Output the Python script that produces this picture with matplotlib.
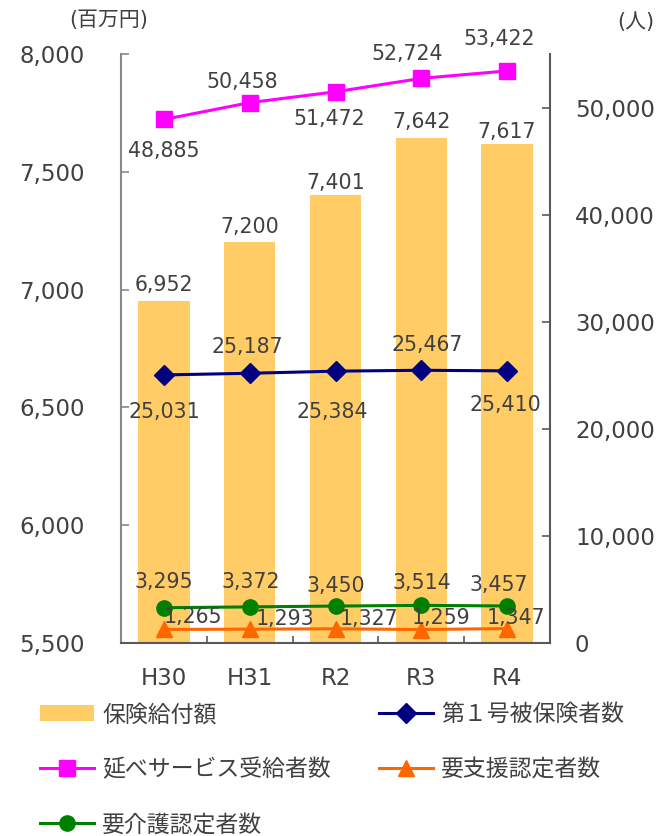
import matplotlib
matplotlib.use("Agg")
import matplotlib.pyplot as plt
from matplotlib.patches import Patch
from matplotlib.lines import Line2D

plt.rcParams['font.family'] = ['DejaVu Sans', 'Noto Sans CJK JP']

# ---- data ----
years = ["H30", "H31", "R2", "R3", "R4"]
benefit_amount = [6952, 7200, 7401, 7642, 7617]          # 保険給付額 (百万円)
service_users = [48885, 50458, 51472, 52724, 53422]      # 延べサービス受給者数
insured_first = [25031, 25187, 25384, 25467, 25410]      # 第1号被保険者数
care_certified = [3295, 3372, 3450, 3514, 3457]          # 要介護認定者数
support_certified = [1265, 1293, 1327, 1259, 1347]       # 要支援認定者数

# ---- label placement (pixel offsets from each point) ----
off_bar = [16, 15, 12, 16, 12]
off_service = [(0, -32), (-8, 21), (-6, -27), (-14, 24), (-8, 32)]
off_insured = [(0, -37), (-2, 26), (-3, -41), (6, 25), (-2, -34)]
off_care = [(0, 26), (1, 25), (0, 20), (1, 22), (-8, 21)]
off_support = [(29, 12), (35, 10), (33, 10), (20, 12), (9, 11)]

TXT = "#404040"
C_BAR = "#FFCC66"
C_SERV = "#FF00FF"
C_INS = "#000080"
C_CARE = "#008000"
C_SUP = "#FF6600"

fig = plt.figure(figsize=(6.6, 8.36), dpi=100)
ax = fig.add_axes([121 / 660, 1 - 643 / 836, (550 - 121) / 660, (643 - 54) / 836])
ax2 = ax.twinx()

x = list(range(len(years)))
bars = ax.bar(x, benefit_amount, width=0.6, color=C_BAR, zorder=1)
ax.set_ylim(5500, 8000)
ax.set_xlim(-0.5, len(years) - 0.5)
ax.set_yticks([5500, 6000, 6500, 7000, 7500, 8000])
ax.set_yticklabels([f"{v:,}" for v in [5500, 6000, 6500, 7000, 7500, 8000]])
ax.set_xticks(x)
ax.set_xticklabels(years)
ax.set_xticks([i + 0.5 for i in range(len(years) - 1)], minor=True)

ax2.set_ylim(0, 55000)
ax2.set_yticks([0, 10000, 20000, 30000, 40000, 50000])
ax2.set_yticklabels([f"{v:,}" for v in [0, 10000, 20000, 30000, 40000, 50000]])

for a in (ax, ax2):
    a.spines['top'].set_visible(False)
ax2.spines['left'].set_visible(False)
ax.spines['right'].set_visible(False)
ax.spines['left'].set_color("#898989")
ax.spines['bottom'].set_color("#595959")
ax2.spines['right'].set_color("#595959")
ax2.spines['bottom'].set_visible(False)
for a in (ax, ax2):
    for s in a.spines.values():
        s.set_linewidth(1.5)

ax.tick_params(axis='y', direction='in', length=6, width=1.2, color="#898989",
               labelsize=16.5, labelcolor=TXT, pad=26)
ax.tick_params(axis='x', which='major', length=0, labelsize=16.5, labelcolor=TXT, pad=17)
ax.tick_params(axis='x', which='minor', direction='in', length=5, width=1.2, color="#595959")
ax2.tick_params(axis='y', direction='in', length=6, width=1.2, color="#595959",
                labelsize=16.5, labelcolor=TXT, pad=18)

ls = dict(linewidth=2.2, zorder=3, clip_on=False)
ax2.plot(x, service_users, color=C_SERV, marker='s', markersize=11, **ls)
ax2.plot(x, insured_first, color=C_INS, marker='D', markersize=10, **ls)
ax2.plot(x, care_certified, color=C_CARE, marker='o', markersize=11, **ls)
ax2.plot(x, support_certified, color=C_SUP, marker='^', markersize=11, **ls)

lab = dict(textcoords='offset pixels', ha='center', va='center', fontsize=14.8,
           color=TXT, zorder=5, annotation_clip=False)
for i, v in enumerate(benefit_amount):
    ax.annotate(f"{v:,}", (i, v), xytext=(0, off_bar[i]), **lab)
for series, offs in ((service_users, off_service), (insured_first, off_insured),
                     (care_certified, off_care), (support_certified, off_support)):
    for i, v in enumerate(series):
        ax2.annotate(f"{v:,}", (i, v), xytext=offs[i], **lab)

fig.text(109 / 660, 1 - 20 / 836, "(百万円)", ha='center', va='center', fontsize=15, color=TXT)
fig.text(636 / 660, 1 - 22 / 836, "(人)", ha='center', va='center', fontsize=15, color=TXT)

handles = [
    Patch(facecolor=C_BAR, edgecolor='none'),
    Line2D([], [], color=C_SERV, marker='s', markersize=11, linewidth=2.2),
    Line2D([], [], color=C_CARE, marker='o', markersize=11, linewidth=2.2),
    Line2D([], [], color=C_INS, marker='D', markersize=10, linewidth=2.2),
    Line2D([], [], color=C_SUP, marker='^', markersize=11, linewidth=2.2),
]
labels = ["保険給付額", "延べサービス受給者数", "要介護認定者数", "第１号被保険者数", "要支援認定者数"]
fig.legend(handles, labels, ncol=2, loc='upper left', bbox_to_anchor=(31 / 660, 1 - 694 / 836),
           frameon=False, fontsize=16.5, labelcolor=TXT, handlelength=2.35,
           handletextpad=0.35, labelspacing=1.4, columnspacing=2.1, borderaxespad=0)

fig.savefig("out.png", dpi=100)
